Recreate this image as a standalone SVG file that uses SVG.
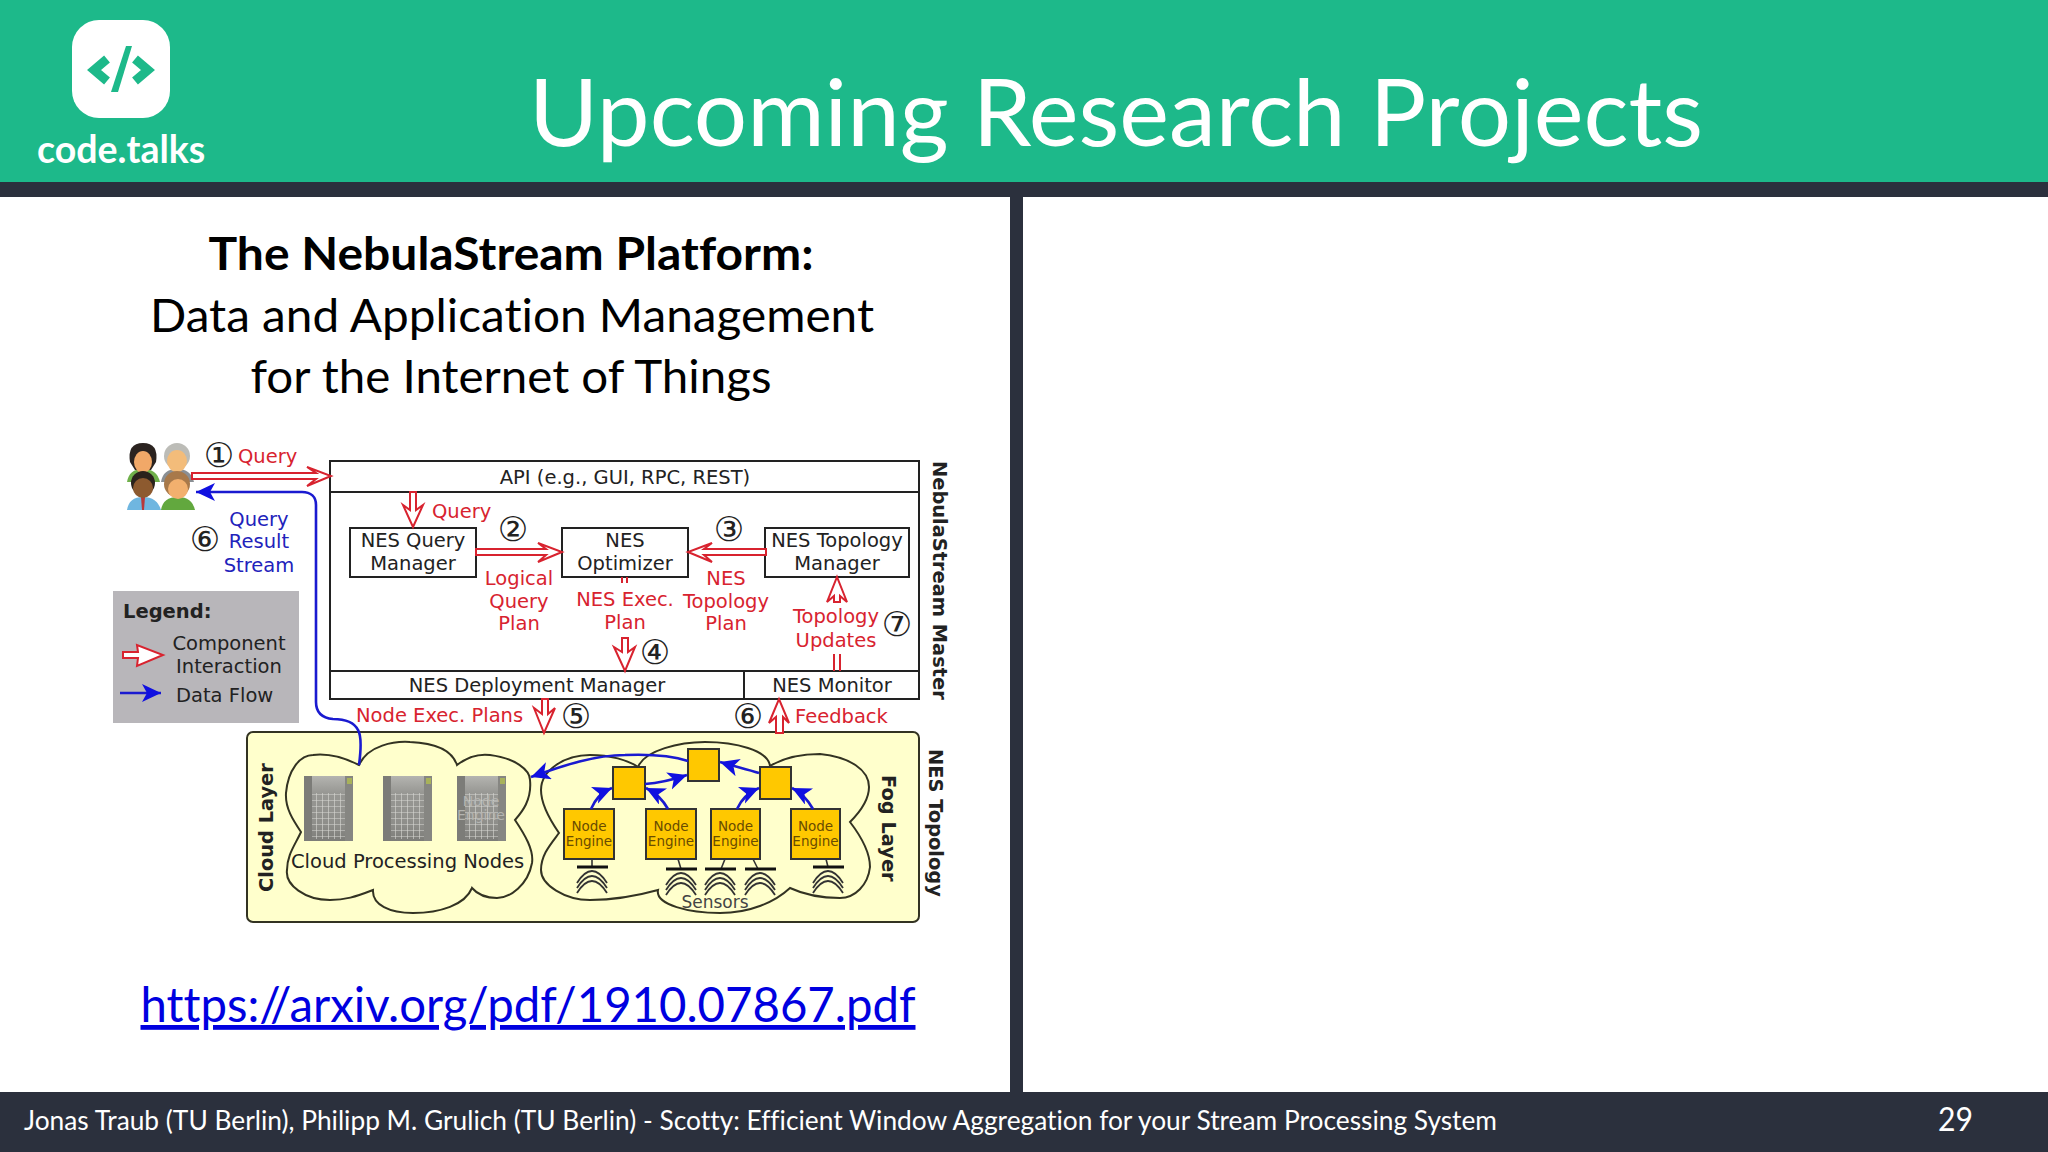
<svg xmlns="http://www.w3.org/2000/svg" width="2048" height="1152" viewBox="0 0 2048 1152">
<style>
.d{font-family:"DejaVu Sans",sans-serif;font-size:19.5px;fill:#222}
.m{text-anchor:middle}
.r{fill:#d8232f}
.b{fill:#2222bb}
.bold{font-weight:bold}
.rot{font-size:19.4px}
.c{font-family:"DejaVu Sans",sans-serif;font-size:34px;fill:#222;text-anchor:middle}
.l{font-family:Lato,"Noto Sans",sans-serif;font-variant-ligatures:none}
.box{fill:#fff;stroke:#222;stroke-width:2}
.ra{fill:#fff;stroke:#d8232f;stroke-width:2;stroke-linejoin:miter}
.rt{fill:none;stroke:#d8232f;stroke-width:2}
.bl{fill:none;stroke:#1a1ad0;stroke-width:2.6}
.cloud{fill:#ffffcc;stroke:#333322;stroke-width:2}
.ne{fill:#ffc800;stroke:#333;stroke-width:2}
.net{font-family:"DejaVu Sans",sans-serif;font-size:13.5px;fill:#6a4c00;text-anchor:middle}
.arc{fill:none;stroke:#333;stroke-width:1.8}
.bar{stroke:#111;stroke-width:3}
.lk{stroke:#333;stroke-width:1.6}
</style>
<defs>
<marker id="bh" markerUnits="userSpaceOnUse" markerWidth="22" markerHeight="20" refX="19" refY="9" orient="auto"><path d="M0 0 L19 9 L0 18 L5 9Z" fill="#1010e0"/></marker>
<linearGradient id="sv" x1="0" y1="0" x2="0" y2="1"><stop offset="0" stop-color="#b4b4b0"/><stop offset=".25" stop-color="#989894"/><stop offset=".75" stop-color="#8e8e8a"/><stop offset="1" stop-color="#7c7c78"/></linearGradient>
<pattern id="grid" width="6" height="6" patternUnits="userSpaceOnUse"><path d="M0 0H6M0 0V6" stroke="#d8d8d4" stroke-width="1.2" fill="none"/></pattern>
<g id="server"><rect width="49" height="65" fill="url(#sv)"/><rect width="8" height="65" fill="#7c7c78"/><rect x="41" width="8" height="65" fill="#868682"/><rect x="8" y="17" width="33" height="46" fill="url(#grid)"/><rect x="43" y="2" width="5" height="6" fill="#a8b25a"/></g>
<g id="sensor"><path class="arc" d="M1 13 Q16 -11 31 13M1 18 Q16 -6 31 18M1 23 Q16 -1 31 23"/></g>
</defs>
<rect width="2048" height="1152" fill="#fff"/>
<g id="header">
<rect width="2048" height="182" fill="#1db98a"/>
<rect y="182" width="2048" height="15" fill="#2b303d"/>
<rect x="72" y="20" width="98" height="98" rx="27" fill="#fff"/>
<path d="M107 59 L94 70 L107 81" fill="none" stroke="#1db98a" stroke-width="9"/>
<path d="M135 59 L148 70 L135 81" fill="none" stroke="#1db98a" stroke-width="9"/>
<path d="M126 46 L132 46 L118 92 L111 92Z" fill="#1db98a"/>
<text class="l" x="37" y="163" font-size="37.5" font-weight="bold" fill="#fff">code.talks</text>
<text class="l" x="529" y="146" font-size="94" fill="#fff" textLength="1174" lengthAdjust="spacingAndGlyphs">Upcoming Research Projects</text>
</g>
<rect id="divider" x="1010" y="197" width="13" height="895" fill="#2b303d"/>
<g id="footer">
<rect y="1092" width="2048" height="60" fill="#2b303d"/>
<text class="l" x="24" y="1130" font-size="26" fill="#fff" textLength="1473" lengthAdjust="spacingAndGlyphs">Jonas Traub (TU Berlin), Philipp M. Grulich (TU Berlin) - Scotty: Efficient Window Aggregation for your Stream Processing System</text>
<text class="l" x="1938" y="1131" font-size="32" fill="#fff" textLength="35" lengthAdjust="spacingAndGlyphs">29</text>
</g>
<g id="heading" class="l" text-anchor="middle" fill="#000">
<text x="511" y="270" font-size="46" font-weight="bold" textLength="605" lengthAdjust="spacingAndGlyphs">The NebulaStream Platform:</text>
<text x="512" y="332" font-size="46" textLength="724" lengthAdjust="spacingAndGlyphs">Data and Application Management</text>
<text x="511" y="393" font-size="46" textLength="521" lengthAdjust="spacingAndGlyphs">for the Internet of Things</text>
<text x="528" y="1022" font-size="48" fill="#0000e0" text-decoration="underline" textLength="775" lengthAdjust="spacingAndGlyphs">https://arxiv.org/pdf/1910.07867.pdf</text>
</g>
<g id="users">
<g><path d="M127 482 Q129 469 143 469 Q157 469 160 482Z" fill="#6fb04a"/><path d="M130 462 Q127 443 143 443 Q159 443 156 462 L151 470 H135Z" fill="#2b2320"/><ellipse cx="143" cy="462" rx="9" ry="11" fill="#f1a868"/></g>
<g><path d="M161 482 Q163 469 177 469 Q191 469 194 482Z" fill="#8a8f94"/><circle cx="177" cy="456" r="13" fill="#bcbcb7"/><ellipse cx="177" cy="461" rx="10" ry="11" fill="#f3bc7a"/></g>
<g><path d="M127 510 Q129 497 143 497 Q157 497 161 510Z" fill="#6fb6e0"/><path d="M141 497H145L144 510H142Z" fill="#b8383a"/><circle cx="143" cy="483" r="12" fill="#2a221c"/><ellipse cx="143" cy="488" rx="10" ry="10" fill="#8d5a2f"/></g>
<g><path d="M161 510 Q163 497 178 497 Q192 497 195 510Z" fill="#62a83e"/><circle cx="177" cy="484" r="13" fill="#a8794a"/><ellipse cx="178" cy="489" rx="10" ry="10" fill="#f2b06e"/></g>
</g>
<g id="legend">
<rect x="113" y="591" width="186" height="132" fill="#b8b6ba"/>
<text class="d bold" x="123" y="618">Legend:</text>
<text class="d m" x="229" y="650">Component</text>
<text class="d m" x="229" y="673">Interaction</text>
<text class="d" x="176" y="702">Data Flow</text>
<path class="ra" d="M123 652 H138 L137 645 L163 655 L137 666 L138 658 H123Z"/>
<path class="bl" d="M120 693 H161" marker-end="url(#bh)"/>
</g>
<g id="nes-master">
<rect class="box" x="330" y="461" width="589" height="238"/>
<path d="M330 492H919M330 671H919M744 671V699" stroke="#222" stroke-width="2" fill="none"/>
<text class="d m" x="625" y="484">API (e.g., GUI, RPC, REST)</text>
<text class="d m" x="537" y="692">NES Deployment Manager</text>
<text class="d m" x="832" y="692">NES Monitor</text>
</g>
<g id="nes-query-manager"><rect class="box" x="350" y="528" width="126" height="49"/><text class="d m" x="413" y="547">NES Query</text><text class="d m" x="413" y="570">Manager</text></g>
<g id="nes-optimizer"><rect class="box" x="562" y="528" width="126" height="49"/><text class="d m" x="625" y="547">NES</text><text class="d m" x="625" y="570">Optimizer</text></g>
<g id="nes-topology-manager"><rect class="box" x="765" y="528" width="144" height="49"/><text class="d m" x="837" y="547">NES Topology</text><text class="d m" x="837" y="570">Manager</text></g>
<g id="nes-topology">
<rect x="247" y="732" width="672" height="190" rx="6" fill="#ffffcc" stroke="#333322" stroke-width="2"/>
</g>
<g id="cloud-layer">
<path class="cloud" d="M359 765 C368 745 395 741 410 742 C435 743 452 750 457 765 C470 755 482 754 490 755 C515 758 530 770 530 780 C532 800 522 812 515 820 C525 835 534 850 532 863 C528 885 510 898 497 898 C485 898 478 895 472 888 C465 905 440 913 413 913 C390 913 372 905 373 890 C355 897 345 900 330 900 C305 900 285 885 287 870 C287 855 295 845 301 832 C293 820 285 808 286 793 C288 770 300 755 313 755 C330 753 345 758 359 765Z"/>
<use href="#server" x="304" y="776"/><use href="#server" x="383" y="776"/><use href="#server" x="457" y="776"/>
<text class="net" x="481" y="806" style="fill:#b4b4b0;font-size:14px">Node</text>
<text class="net" x="481" y="820" style="fill:#b4b4b0;font-size:14px">Engine</text>
<text class="d" x="291" y="868">Cloud Processing Nodes</text>
<text class="d bold rot" transform="translate(273 892) rotate(-90)">Cloud Layer</text>
</g>
<g id="fog-layer">
<path class="cloud" d="M638 767 C645 750 680 742 705 742 C735 742 768 750 770 766 C785 757 805 754 820 754 C850 757 869 770 869 787 C869 800 860 812 850 822 C860 835 870 852 870 867 C868 885 855 898 840 898 C820 898 805 895 790 888 C775 902 750 913 720 913 C690 913 655 905 658 890 C640 895 615 900 590 900 C565 900 541 885 541 870 C541 855 550 845 559 833 C550 820 541 805 541 790 C541 770 565 755 590 755 C610 755 628 760 638 767Z"/>
<text class="d bold rot" transform="translate(882 775) rotate(90)">Fog Layer</text>
<text class="d m" x="715" y="908" style="font-size:17px;fill:#444">Sensors</text>
</g>
<g id="fog-node-1"><rect class="ne" x="613" y="767" width="32" height="32"/></g>
<g id="fog-node-2"><rect class="ne" x="688" y="749" width="31" height="32"/></g>
<g id="fog-node-3"><rect class="ne" x="760" y="767" width="31" height="32"/></g>
<g id="node-engine-1"><rect class="ne" x="564" y="809" width="50" height="50"/><text class="net" x="589" y="831">Node</text><text class="net" x="589" y="846">Engine</text></g>
<g id="node-engine-2"><rect class="ne" x="646" y="809" width="50" height="50"/><text class="net" x="671" y="831">Node</text><text class="net" x="671" y="846">Engine</text></g>
<g id="node-engine-3"><rect class="ne" x="711" y="809" width="49" height="50"/><text class="net" x="735.5" y="831">Node</text><text class="net" x="735.5" y="846">Engine</text></g>
<g id="node-engine-4"><rect class="ne" x="791" y="809" width="49" height="50"/><text class="net" x="815.500" y="831">Node</text><text class="net" x="815.5" y="846">Engine</text></g>
<g id="sensors">
<path class="lk" d="M592 859V867M678 859L681 869M725 859L721 869M753 859L758 869M826 859L828 867"/>
<path class="bar" d="M577 867H608M666 869H697M705 869H736M745 869H776M813 867H844"/>
<use href="#sensor" x="576" y="870"/><use href="#sensor" x="665" y="872"/><use href="#sensor" x="704" y="872"/><use href="#sensor" x="744" y="872"/><use href="#sensor" x="812" y="870"/>
</g>
<g id="connectors">
<path class="ra" d="M192 473 H316 L307 467 L331 476 L307 486 L316 479 H192Z"/>
<path class="ra" d="M410 492 V510 L403 505 L413 527 L423 505 L416 510 V492Z"/>
<path class="ra" d="M476 549 H546 L538 543 L562 552 L538 562 L546 555 H476Z"/>
<path class="ra" d="M766 549 H704 L712 543 L688 552 L712 562 L704 555 H766Z"/>
<path class="rt" d="M622 577V583M627 577V583"/>
<path class="ra" d="M622 638 V652 L614 647 L625 671 L635 647 L628 652 V638Z"/>
<path class="ra" d="M542 699 V714 L534 708 L544 733 L555 708 L548 714 V699Z"/>
<path class="ra" d="M776 733 V717 L769 723 L779 699 L789 723 L783 717 V733Z"/>
<path class="ra" d="M834 602 V596 L827 602 L837 577 L847 602 L840 596 V602Z"/>
<path class="rt" d="M834 654V671M840 654V671"/>
<path class="bl" d="M359 765 C361 750 361 735 358 730 C354 722 345 719 333 719 C322 718 316 712 316 702 V505 C316 497 311 492 302 492 H196" marker-end="url(#bh)"/>
<path class="bl" d="M688 761 C670 755 650 754 625 755 C595 755 565 765 531 777" marker-end="url(#bh)"/>
<path class="bl" d="M591 809 C595 800 600 793 612 788" marker-end="url(#bh)"/>
<path class="bl" d="M668 809 C663 800 656 793 646 788" marker-end="url(#bh)"/>
<path class="bl" d="M645 784 C660 783 672 780 687 775" marker-end="url(#bh)"/>
<path class="bl" d="M737 809 C741 800 747 793 759 788" marker-end="url(#bh)"/>
<path class="bl" d="M813 809 C808 800 802 793 792 788" marker-end="url(#bh)"/>
<path class="bl" d="M759 773 C746 769 733 766 720 762" marker-end="url(#bh)"/>
</g>
<g id="labels">
<text class="d r" x="238" y="463">Query</text>
<text class="d r" x="432" y="518">Query</text>
<text class="d b m" x="259" y="526">Query</text><text class="d b m" x="259" y="548">Result</text><text class="d b m" x="259" y="572">Stream</text>
<text class="d r m" x="519" y="585">Logical</text><text class="d r m" x="519" y="608">Query</text><text class="d r m" x="519" y="630">Plan</text>
<text class="d r m" x="625" y="606">NES Exec.</text><text class="d r m" x="625" y="629">Plan</text>
<text class="d r m" x="726" y="585">NES</text><text class="d r m" x="726" y="608">Topology</text><text class="d r m" x="726" y="630">Plan</text>
<text class="d r m" x="836" y="623">Topology</text><text class="d r m" x="836" y="647">Updates</text>
<text class="d r" x="356" y="722">Node Exec. Plans</text>
<text class="d r" x="795" y="723">Feedback</text>
<text class="c" x="219" y="467">①</text>
<text class="c" x="205" y="551">⑥</text>
<text class="c" x="513" y="541">②</text>
<text class="c" x="729" y="541">③</text>
<text class="c" x="655" y="664">④</text>
<text class="c" x="576" y="728">⑤</text>
<text class="c" x="748" y="728">⑥</text>
<text class="c" x="897" y="636">⑦</text>
<text class="d bold rot" transform="translate(933 461) rotate(90)">NebulaStream Master</text>
<text class="d bold rot" transform="translate(929 749) rotate(90)">NES Topology</text>
</g>
</svg>
